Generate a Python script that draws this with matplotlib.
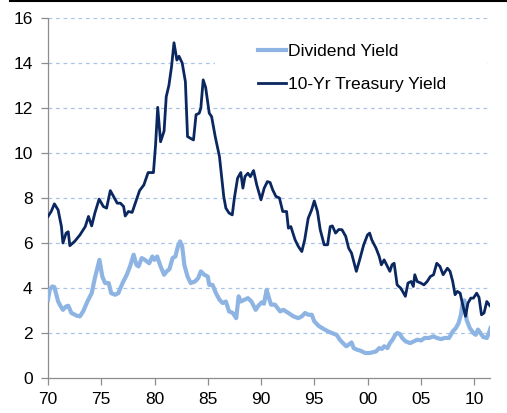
import matplotlib
matplotlib.use("Agg")
import matplotlib.pyplot as plt
from matplotlib.lines import Line2D
from matplotlib.patches import Rectangle

plt.rcParams['font.family'] = ['Liberation Sans', 'DejaVu Sans']

# 10-Yr Treasury Yield (decimal year, %)
tsy_year = [1970.0, 1970.3, 1970.6, 1970.95, 1971.26, 1971.4, 1971.7, 1971.9, 1972.05, 1972.5,
            1973.0, 1973.5, 1973.8, 1974.1, 1974.4, 1974.8, 1975.2, 1975.5, 1975.85, 1976.15,
            1976.5, 1976.8, 1977.1, 1977.25, 1977.55, 1977.9, 1978.2, 1978.6, 1979.0, 1979.4,
            1979.9, 1980.1, 1980.3, 1980.57, 1980.9, 1981.1, 1981.35, 1981.6, 1981.83, 1982.1,
            1982.3, 1982.6, 1982.9, 1983.1, 1983.35, 1983.66, 1983.9, 1984.2, 1984.35, 1984.57,
            1984.8, 1985.14, 1985.36, 1985.7, 1986.1, 1986.5, 1986.7, 1987.0, 1987.3, 1987.5,
            1987.8, 1988.1, 1988.3, 1988.5, 1988.77, 1989.0, 1989.3, 1989.6, 1990.0, 1990.3,
            1990.6, 1990.85, 1991.1, 1991.4, 1991.73, 1992.04, 1992.4, 1992.57, 1992.8, 1993.2,
            1993.5, 1993.83, 1994.1, 1994.43, 1994.75, 1995.0, 1995.3, 1995.56, 1995.93, 1996.25,
            1996.5, 1996.7, 1997.0, 1997.3, 1997.6, 1997.95, 1998.23, 1998.5, 1998.95, 1999.26,
            1999.64, 2000.0, 2000.2, 2000.4, 2000.8, 2001.1, 2001.3, 2001.56, 2001.87, 2002.1,
            2002.3, 2002.5, 2002.78, 2003.1, 2003.3, 2003.55, 2003.8, 2004.1, 2004.3, 2004.44,
            2004.66, 2005.0, 2005.3, 2005.6, 2005.9, 2006.2, 2006.5, 2006.8, 2007.1, 2007.5,
            2007.75, 2008.0, 2008.22, 2008.43, 2008.7, 2008.9, 2009.2, 2009.43, 2009.7, 2009.94,
            2010.25, 2010.47, 2010.7, 2010.94, 2011.2, 2011.5]
tsy_val = [7.18, 7.4, 7.74, 7.47, 6.73, 6.0, 6.44, 6.5, 5.88, 6.07,
           6.36, 6.73, 7.18, 6.76, 7.33, 7.95, 7.62, 7.55, 8.33, 8.07,
           7.77, 7.77, 7.62, 7.2, 7.4, 7.36, 7.77, 8.33, 8.58, 9.13,
           9.13, 10.36, 12.03, 10.5, 10.98, 12.5, 13.0, 13.84, 14.9, 14.13,
           14.3, 14.0, 13.17, 10.73, 10.66, 10.58, 11.7, 11.77, 12.0, 13.25,
           12.92, 11.77, 11.62, 10.73, 9.84, 8.07, 7.55, 7.33, 7.25, 8.0,
           8.88, 9.13, 8.44, 8.96, 9.1, 8.95, 9.22, 8.58, 7.92, 8.44,
           8.73, 8.69, 8.36, 8.07, 8.0, 7.4, 7.4, 6.66, 6.73, 6.14,
           5.85, 5.62, 6.14, 7.1, 7.47, 7.87, 7.4, 6.59, 5.92, 5.92,
           6.73, 6.76, 6.44, 6.6, 6.59, 6.3, 5.77, 5.55, 4.74, 5.25,
           5.92, 6.36, 6.44, 6.14, 5.77, 5.4, 5.03, 5.25, 4.96, 4.74,
           5.03, 5.1, 4.14, 4.0, 3.85, 3.63, 4.22, 4.29, 4.07, 4.59,
           4.29, 4.22, 4.14, 4.29, 4.51, 4.59, 5.1, 4.96, 4.59, 4.88,
           4.74, 4.29, 3.7, 3.85, 3.77, 3.33, 2.74, 3.33, 3.55, 3.55,
           3.77, 3.58, 2.81, 2.89, 3.4, 3.21]

# Dividend Yield (decimal year, %)
div_year = [1970.0, 1970.16, 1970.4, 1970.6, 1970.95, 1971.2, 1971.4, 1971.7, 1971.9, 1972.2,
            1972.7, 1973.0, 1973.3, 1973.7, 1974.1, 1974.4, 1974.83, 1975.1, 1975.36, 1975.7,
            1975.93, 1976.3, 1976.6, 1977.0, 1977.4, 1977.7, 1978.04, 1978.3, 1978.5, 1978.8,
            1979.1, 1979.5, 1979.8, 1980.0, 1980.25, 1980.57, 1980.9, 1981.15, 1981.4, 1981.7,
            1981.96, 1982.2, 1982.4, 1982.6, 1982.8, 1983.1, 1983.4, 1983.8, 1984.1, 1984.35,
            1984.67, 1985.0, 1985.14, 1985.45, 1985.77, 1986.1, 1986.4, 1986.7, 1987.0, 1987.35,
            1987.67, 1987.9, 1988.1, 1988.45, 1988.77, 1989.1, 1989.5, 1989.75, 1990.06, 1990.28,
            1990.53, 1990.75, 1990.94, 1991.3, 1991.8, 1992.1, 1992.57, 1993.04, 1993.5, 1993.83,
            1994.14, 1994.45, 1994.77, 1995.0, 1995.4, 1995.87, 1996.3, 1996.8, 1997.1, 1997.4,
            1997.7, 1998.0, 1998.23, 1998.5, 1998.7, 1999.0, 1999.35, 1999.8, 2000.16, 2000.47,
            2000.8, 2001.1, 2001.35, 2001.56, 2001.87, 2002.1, 2002.35, 2002.6, 2002.8, 2003.04,
            2003.25, 2003.57, 2004.0, 2004.35, 2004.66, 2005.04, 2005.36, 2005.77, 2006.2, 2006.5,
            2006.9, 2007.25, 2007.65, 2008.0, 2008.3, 2008.55, 2008.77, 2008.92, 2009.1, 2009.3,
            2009.6, 2009.94, 2010.15, 2010.37, 2010.6, 2010.87, 2011.2, 2011.4, 2011.55]
div_val = [3.48, 3.92, 4.07, 4.04, 3.4, 3.18, 3.03, 3.18, 3.21, 2.89,
           2.77, 2.74, 2.96, 3.4, 3.77, 4.44, 5.25, 4.51, 4.22, 4.22,
           3.77, 3.7, 3.77, 4.22, 4.59, 4.96, 5.48, 5.03, 4.96, 5.33,
           5.25, 5.1, 5.4, 5.25, 5.4, 4.96, 4.59, 4.74, 4.84, 5.33,
           5.4, 5.85, 6.07, 5.85, 5.03, 4.51, 4.22, 4.29, 4.44, 4.74,
           4.59, 4.51, 4.14, 4.14, 3.77, 3.48, 3.33, 3.4, 2.96, 2.89,
           2.66, 3.63, 3.4, 3.48, 3.55, 3.4, 3.03, 3.21, 3.36, 3.3,
           3.92, 3.55, 3.26, 3.26, 2.96, 3.03, 2.89, 2.74, 2.66, 2.74,
           2.89, 2.81, 2.81, 2.52, 2.32, 2.18, 2.07, 1.97, 1.92, 1.7,
           1.55, 1.41, 1.48, 1.58, 1.33, 1.26, 1.21, 1.11, 1.11, 1.14,
           1.18, 1.33, 1.29, 1.41, 1.33, 1.55, 1.7, 1.92, 2.0, 1.95,
           1.78, 1.63, 1.55, 1.63, 1.7, 1.67, 1.78, 1.78, 1.85, 1.78,
           1.73, 1.78, 1.78, 2.07, 2.22, 2.44, 2.81, 3.3, 3.45, 2.59,
           2.22, 2.0, 1.92, 2.15, 2.0, 1.82, 1.78, 2.0, 2.22]

x_ticks = [1970, 1975, 1980, 1985, 1990, 1995, 2000, 2005, 2010]
x_labels = ['70', '75', '80', '85', '90', '95', '00', '05', '10']
y_ticks = [0, 2, 4, 6, 8, 10, 12, 14, 16]

W, H = 507, 413
L, R, B, T = 48, 490, 378, 18
fig = plt.figure(figsize=(W / 100, H / 100), dpi=100)
ax = fig.add_axes([L / W, 1 - B / H, (R - L) / W, (B - T) / H])

def ax_x(px):
    return (px - L) / (R - L)

def ax_y(py):
    return (B - py) / (B - T)

for yv in y_ticks[1:]:
    ax.axhline(yv, color='#A9C4EB', lw=0.9, ls=(0, (3, 3)), zorder=1)

# white box behind the legend (hides part of the 14 gridline)
ax.add_patch(Rectangle((ax_x(215), ax_y(100)), ax_x(487) - ax_x(215), ax_y(30) - ax_y(100),
                       transform=ax.transAxes, facecolor='white', edgecolor='none', zorder=2))

ax.plot(div_year, div_val, color='#8DB4E2', lw=3.0, label='Dividend Yield', zorder=3,
        solid_joinstyle='round')
ax.plot(tsy_year, tsy_val, color='#0A2760', lw=2.0, label='10-Yr Treasury Yield', zorder=4,
        solid_joinstyle='round')

ax.set_xlim(1970, 2011.5)
ax.set_ylim(0, 16)
ax.set_xticks(x_ticks)
ax.set_xticklabels(x_labels)
ax.set_yticks(y_ticks)
for s in ['top', 'right']:
    ax.spines[s].set_visible(False)
for s in ['left', 'bottom']:
    ax.spines[s].set_color('#8C8C8C')
    ax.spines[s].set_linewidth(0.9)
ax.tick_params(axis='both', direction='out', length=5, width=0.9, color='#8C8C8C',
               labelsize=12.5, labelcolor='black')
ax.tick_params(axis='x', pad=5)
ax.tick_params(axis='y', pad=6)

leg = ax.legend(loc='center left', bbox_to_anchor=(ax_x(258), ax_y(68)), frameon=False,
                fontsize=12.6, handlelength=1.6, handletextpad=0.12, labelspacing=1.05,
                borderpad=0, borderaxespad=0)
leg.set_zorder(5)

fig.add_artist(Line2D([10 / W, 1], [1 - 0.8 / H, 1 - 0.8 / H], color='black', lw=1.5,
                      transform=fig.transFigure))

fig.savefig('out.png', dpi=100)
